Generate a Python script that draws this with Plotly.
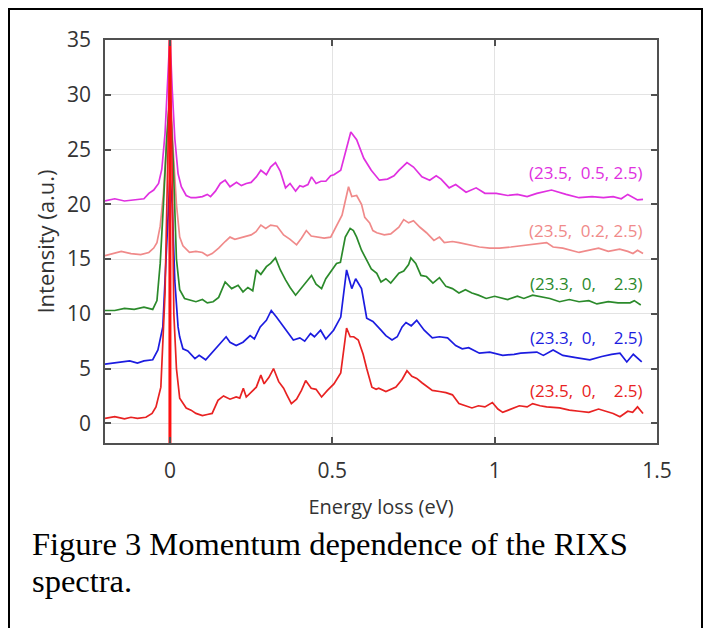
import plotly.graph_objects as go

# ---------------- data ----------------
mag_x = [-0.20, -0.17, -0.14, -0.11, -0.08, -0.065, -0.05, -0.035, -0.025, -0.015, -0.007, 0.0,
         0.007, 0.015, 0.025, 0.035, 0.05, 0.065, 0.08, 0.10, 0.115, 0.125, 0.14, 0.155, 0.17,
         0.185, 0.205, 0.22, 0.235, 0.25, 0.266, 0.28, 0.297, 0.31, 0.325, 0.34, 0.356, 0.37,
         0.387, 0.40, 0.41, 0.425, 0.436, 0.45, 0.465, 0.48, 0.495, 0.505, 0.526, 0.54, 0.557,
         0.575, 0.597, 0.62, 0.645, 0.67, 0.69, 0.705, 0.73, 0.75, 0.776, 0.80, 0.82, 0.835,
         0.86, 0.88, 0.912, 0.943, 0.97, 1.005, 1.04, 1.07, 1.10, 1.13, 1.175, 1.22, 1.26,
         1.30, 1.335, 1.365, 1.39, 1.41, 1.44, 1.457]
mag_y = [20.3, 20.5, 20.3, 20.4, 20.5, 21.0, 21.3, 21.9, 23.2, 26.5, 31.0, 35.5,
         30.5, 26.0, 22.8, 21.6, 20.8, 20.6, 20.6, 20.7, 20.9, 20.7, 21.2, 21.9, 22.2,
         21.6, 22.0, 21.7, 21.9, 22.0, 22.5, 23.1, 22.7, 23.4, 23.8, 23.0, 21.5, 21.9,
         21.2, 21.7, 21.6, 21.8, 22.5, 21.9, 22.1, 22.1, 22.6, 22.7, 23.1, 24.8, 26.6,
         25.9, 24.2, 23.1, 22.2, 22.3, 22.6, 23.1, 23.8, 23.4, 22.5, 22.2, 22.6, 22.3,
         21.5, 21.8, 21.1, 21.5, 21.0, 21.0, 20.8, 20.9, 20.7, 21.0, 21.3, 20.9, 20.6,
         20.7, 20.6, 20.7, 20.5, 20.9, 20.4, 20.45]

sal_x = [-0.20, -0.17, -0.15, -0.12, -0.09, -0.065, -0.05, -0.04, -0.03, -0.02, -0.01, 0.0,
         0.01, 0.02, 0.03, 0.04, 0.06, 0.08, 0.10, 0.115, 0.13, 0.15, 0.17, 0.185, 0.20,
         0.215, 0.23, 0.25, 0.265, 0.28, 0.295, 0.31, 0.33, 0.35, 0.37, 0.39, 0.405, 0.42,
         0.435, 0.45, 0.475, 0.495, 0.51, 0.53, 0.55, 0.56, 0.575, 0.59, 0.60, 0.615, 0.625,
         0.637, 0.66, 0.68, 0.705, 0.72, 0.735, 0.75, 0.77, 0.79, 0.813, 0.83, 0.845, 0.87,
         0.89, 0.92, 0.953, 0.985, 1.015, 1.05, 1.08, 1.11, 1.14, 1.16, 1.18, 1.21, 1.26,
         1.29, 1.32, 1.35, 1.385, 1.41, 1.426, 1.44, 1.457]
sal_y = [15.3, 15.5, 15.7, 15.5, 15.4, 15.6, 16.0, 16.5, 18.0, 21.0, 26.0, 30.5,
         25.0, 20.0, 17.0, 16.2, 15.6, 15.7, 15.6, 15.3, 15.5, 16.0, 16.6, 17.0, 16.8,
         16.9, 17.0, 17.2, 17.5, 18.1, 17.8, 18.1, 18.0, 17.2, 16.8, 16.3, 16.9, 17.6,
         17.1, 17.0, 16.9, 17.0, 17.9, 19.0, 21.6, 20.7, 20.8, 20.0, 18.8, 18.3, 17.6,
         17.4, 17.2, 17.3, 17.9, 18.6, 18.3, 18.5, 17.9, 17.4, 16.7, 17.0, 16.5, 16.6,
         16.5, 16.3, 16.1, 16.0, 16.0, 16.1, 16.2, 16.3, 16.4, 16.5, 16.1, 16.0, 15.6,
         15.8, 16.0, 15.7, 15.9, 15.7, 15.5, 15.8, 15.5]

grn_x = [-0.20, -0.17, -0.14, -0.11, -0.08, -0.053, -0.04, -0.03, -0.02, -0.01, 0.0, 0.01,
         0.02, 0.03, 0.045, 0.06, 0.08, 0.10, 0.115, 0.133, 0.15, 0.17, 0.19, 0.21, 0.225,
         0.24, 0.255, 0.266, 0.28, 0.297, 0.31, 0.325, 0.34, 0.356, 0.37, 0.387, 0.40, 0.418,
         0.436, 0.45, 0.467, 0.48, 0.495, 0.513, 0.525, 0.54, 0.555, 0.565, 0.575, 0.59,
         0.606, 0.62, 0.637, 0.65, 0.665, 0.68, 0.705, 0.72, 0.735, 0.742, 0.757, 0.773,
         0.79, 0.81, 0.83, 0.85, 0.87, 0.89, 0.91, 0.93, 0.95, 0.974, 1.0, 1.015, 1.04,
         1.07, 1.09, 1.117, 1.14, 1.17, 1.2, 1.23, 1.26, 1.29, 1.315, 1.35, 1.38, 1.417,
         1.43, 1.45]
grn_y = [10.3, 10.3, 10.5, 10.4, 10.6, 10.4, 11.2, 14.6, 20.0, 26.0, 30.0, 24.0,
         15.0, 12.2, 11.4, 11.3, 11.1, 11.3, 11.0, 11.1, 11.5, 12.9, 12.3, 12.6, 12.0,
         12.4, 12.1, 14.0, 13.6, 14.3, 14.6, 15.1, 14.0, 13.1, 12.4, 11.7, 12.2, 12.8,
         13.5, 12.7, 12.3, 13.2, 13.8, 14.6, 14.7, 17.0, 17.8, 17.6, 17.0, 15.8,
         14.9, 14.1, 13.7, 12.9, 13.2, 12.8, 13.7, 13.9, 14.5, 15.1, 14.6, 13.5,
         13.4, 12.8, 13.3, 12.5, 12.3, 11.9, 12.2, 11.9, 11.7, 11.4, 11.6, 11.5, 11.3,
         11.6, 11.4, 11.7, 11.6, 11.4, 11.1, 11.3, 11.1, 11.2, 10.9, 11.1, 11.0, 11.0,
         11.2, 10.8]

blu_x = [-0.20, -0.17, -0.15, -0.124, -0.10, -0.08, -0.053, -0.037, -0.022, -0.012, -0.005,
         0.0, 0.007, 0.015, 0.025, 0.03, 0.04, 0.055, 0.077, 0.09, 0.11, 0.125, 0.14, 0.155,
         0.173, 0.185, 0.204, 0.225, 0.247, 0.26, 0.278, 0.297, 0.312, 0.328, 0.345, 0.356,
         0.38, 0.40, 0.415, 0.433, 0.445, 0.464, 0.48, 0.504, 0.526, 0.544, 0.56, 0.572,
         0.59, 0.606, 0.625, 0.65, 0.665, 0.684, 0.70, 0.715, 0.727, 0.743, 0.76, 0.783,
         0.808, 0.83, 0.855, 0.88, 0.90, 0.92, 0.953, 0.985, 1.025, 1.06, 1.08, 1.13, 1.15,
         1.18, 1.21, 1.25, 1.293, 1.33, 1.36, 1.386, 1.407, 1.427, 1.453]
blu_y = [5.4, 5.5, 5.6, 5.7, 5.5, 5.7, 5.8, 6.7, 8.8, 15.0, 20.0,
         22.5, 20.0, 13.0, 8.8, 7.9, 6.8, 6.6, 5.9, 6.2, 5.8, 6.3, 6.8, 7.4,
         7.9, 7.4, 7.1, 7.4, 8.0, 7.7, 8.8, 9.4, 10.3, 9.7, 9.0, 8.5,
         7.6, 7.8, 7.5, 8.2, 7.9, 8.5, 7.7, 8.5, 9.7, 14.0, 12.3, 13.2,
         12.3, 9.6, 9.3, 8.5, 8.0, 7.6, 7.9, 8.8, 9.2, 8.9, 9.4, 8.5,
         7.8, 7.9, 7.8, 7.1, 6.8, 6.9, 6.4, 6.5, 6.2, 6.3, 6.4, 6.5, 6.2,
         6.7, 6.2, 6.0, 5.8, 6.1, 6.3, 6.4, 5.6, 6.3, 5.6]

red_x = [-0.20, -0.17, -0.14, -0.12, -0.10, -0.074, -0.055, -0.043, -0.028, -0.015, -0.006,
         0.0, 0.006, 0.012, 0.02, 0.03, 0.05, 0.065, 0.08, 0.10, 0.115, 0.13, 0.148, 0.165,
         0.185, 0.204, 0.215, 0.226, 0.235, 0.25, 0.266, 0.28, 0.29, 0.305, 0.319, 0.335,
         0.35, 0.36, 0.374, 0.39, 0.405, 0.418, 0.435, 0.45, 0.467, 0.485, 0.505, 0.526,
         0.544, 0.555, 0.566, 0.58, 0.595, 0.606, 0.622, 0.635, 0.643, 0.665, 0.696, 0.715,
         0.73, 0.745, 0.76, 0.776, 0.79, 0.808, 0.83, 0.85, 0.87, 0.89, 0.91, 0.93, 0.95,
         0.97, 0.993, 1.01, 1.025, 1.05, 1.076, 1.10, 1.117, 1.14, 1.16, 1.2, 1.23, 1.26,
         1.29, 1.32, 1.345, 1.365, 1.386, 1.41, 1.425, 1.44, 1.457]
red_y = [0.45, 0.6, 0.4, 0.55, 0.45, 0.55, 0.9, 1.5, 3.3, 12.0, 25.0,
         35.0, 25.0, 10.0, 5.0, 2.3, 1.4, 1.2, 0.9, 0.7, 0.8, 0.9, 2.1, 2.5,
         2.2, 2.4, 2.3, 3.2, 2.4, 2.8, 3.3, 4.4, 3.6, 4.2, 5.0, 3.8,
         3.2, 2.6, 1.8, 2.2, 3.0, 3.9, 3.2, 3.1, 2.4, 3.0, 3.6, 4.6,
         8.7, 7.9, 7.9, 7.6, 6.3, 5.0, 3.3, 3.1, 3.2, 2.9, 3.3, 4.0,
         4.8, 4.3, 4.1, 3.7, 3.4, 3.0, 2.9, 2.8, 2.6, 1.8, 1.6, 1.4, 1.6,
         1.5, 1.9, 1.3, 1.0, 1.3, 1.6, 1.5, 1.8, 1.6, 1.5, 1.4, 1.2, 1.1,
         1.0, 1.3, 1.1, 0.9, 0.6, 1.1, 1.0, 1.5, 0.9]

elastic_x = [0, 0]
elastic_y = [-1.8, 35]

labels = ["(23.5,\u00a0\u00a00.5,\u00a02.5)",
          "(23.5,\u00a0\u00a00.2,\u00a02.5)",
          "(23.3,\u00a0\u00a00,\u00a0\u00a0\u00a0\u00a02.3)",
          "(23.3,\u00a0\u00a00,\u00a0\u00a0\u00a0\u00a02.5)",
          "(23.5,\u00a0\u00a00,\u00a0\u00a0\u00a0\u00a02.5)"]
label_y = [22.9, 17.6, 12.8, 7.8, 3.0]
colors = ["#e030e0", "#f08a8a", "#2b8a2b", "#1c1ce0", "#e82222"]

x_ticks = [0, 0.5, 1, 1.5]
x_ticktext = ["0", "0.5", "1", "1.5"]
y_ticks = [0, 5, 10, 15, 20, 25, 30, 35]

caption_lines = ["Figure 3 Momentum dependence of the RIXS", "spectra."]

series = [(mag_x, mag_y), (sal_x, sal_y), (grn_x, grn_y), (blu_x, blu_y), (red_x, red_y)]

# ---------------- figure ----------------
# the page adds an 8px body margin, so the figure box is offset by (8, 8)
L, R, T, B = 97, 63, 32, 193
W, H = 712, 628
PW = W - L - R
PH = H - T - B

def px_x(p):  # page x -> paper x
    return (p - 8 - L) / PW

def px_y(p):  # page y -> paper y
    return (H - B - (p - 8)) / PH

fig = go.Figure()
for (xs, ys), c in zip(series, colors):
    fig.add_trace(go.Scatter(x=xs, y=ys, mode="lines",
                             line=dict(color=c, width=1.7), showlegend=False))
fig.add_trace(go.Scatter(x=elastic_x, y=elastic_y, mode="lines",
                         line=dict(color="#ff1010", width=3), showlegend=False))

for txt, yv, c in zip(labels, label_y, colors):
    fig.add_annotation(x=1.463, y=yv, xref="x", yref="y", text=txt, showarrow=False,
                       xanchor="right", yanchor="middle",
                       font=dict(family="Open Sans", size=17, color=c))

axis_common = dict(showline=True, linecolor="#505050", linewidth=1.5, mirror="ticks",
                   ticks="inside", ticklen=6, tickcolor="#505050", tickwidth=1.5,
                   showgrid=True, gridcolor="#e3e3e3", gridwidth=1.2, zeroline=False,
                   tickfont=dict(family="Open Sans", size=21, color="#333333"))

fig.update_xaxes(range=[-0.2, 1.5], tickvals=x_ticks, ticktext=x_ticktext,
                 ticklabelstandoff=8,
                 title=dict(text="Energy loss (eV)", standoff=17,
                            font=dict(family="Open Sans", size=20, color="#333333")),
                 **axis_common)
fig.update_yaxes(range=[-1.8, 35], tickvals=y_ticks,
                 ticklabelstandoff=8,
                 title=dict(text="Intensity (a.u.)", standoff=6,
                            font=dict(family="Open Sans", size=22, color="#333333")),
                 **axis_common)

# caption
for txt, yc in zip(caption_lines, [544, 581]):
    fig.add_annotation(x=px_x(30), y=px_y(yc), xref="paper", yref="paper", xanchor="left",
                       yanchor="middle", showarrow=False, align="left", text=txt,
                       font=dict(family="Liberation Serif", size=32.5, color="#000000"))

# outer frame
fig.add_shape(type="rect", xref="paper", yref="paper",
              x0=px_x(9), x1=px_x(702), y0=px_y(660), y1=px_y(9),
              line=dict(color="#000000", width=2), fillcolor="rgba(0,0,0,0)")

fig.update_layout(width=W, height=H, margin=dict(l=L, r=R, t=T, b=B),
                  paper_bgcolor="white", plot_bgcolor="white")

fig.write_html("out.html")
